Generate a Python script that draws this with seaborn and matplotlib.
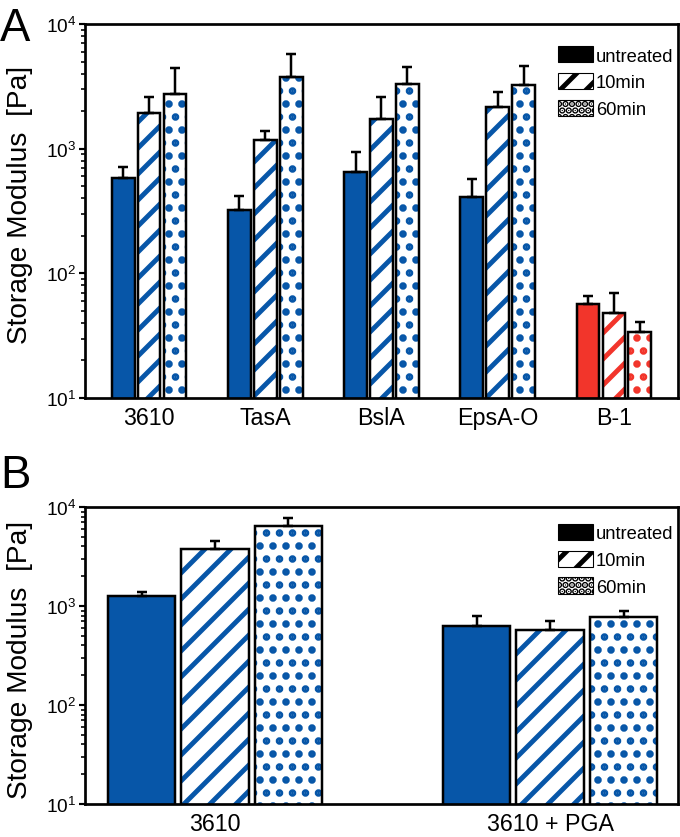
import numpy as np
import pandas as pd
import matplotlib
matplotlib.use('Agg')
import matplotlib.pyplot as plt
from matplotlib.patches import Patch, Rectangle
import seaborn as sns

# ---- data (Pa) ----
treatments = ['untreated', '10min', '60min']

strains_a = ['3610', 'TasA', 'BslA', 'EpsA-O', 'B-1']
untreated_a = [580, 320, 650, 410, 57]
min10_a = [1930, 1180, 1730, 2150, 48]
min60_a = [2750, 3750, 3300, 3250, 34]
err_untreated_a = [130, 100, 285, 160, 9]
err_10_a = [670, 205, 855, 715, 21]
err_60_a = [1690, 1990, 1195, 1385, 7]

strains_b = ['3610', '3610 + PGA']
untreated_b = [1250, 630]
min10_b = [3770, 575]
min60_b = [6480, 780]
err_untreated_b = [120, 155]
err_10_b = [730, 130]
err_60_b = [1265, 118]

BLUE = '#0756a8'
RED = '#f2352b'
colors_a = [BLUE, BLUE, BLUE, BLUE, RED]
colors_b = [BLUE, BLUE]
hatches = [None, '/', '.']

DPI = 78
sns.set_style('ticks')
plt.rcParams['font.family'] = ['Liberation Sans', 'DejaVu Sans']
plt.rcParams['hatch.linewidth'] = 4.5
plt.rcParams['axes.linewidth'] = 2.5
for key in ['text.color', 'axes.labelcolor', 'xtick.color', 'ytick.color', 'axes.edgecolor']:
    plt.rcParams[key] = 'black'


def make_df(strains, vals, errs):
    return pd.DataFrame({
        'strain': strains * 3,
        'treatment': np.repeat(treatments, len(strains)),
        'modulus': vals[0] + vals[1] + vals[2],
        'err': errs[0] + errs[1] + errs[2],
    })


df_a = make_df(strains_a, [untreated_a, min10_a, min60_a],
               [err_untreated_a, err_10_a, err_60_a])
df_b = make_df(strains_b, [untreated_b, min10_b, min60_b],
               [err_untreated_b, err_10_b, err_60_b])


def draw_panel(ax, df, strains, colors, width, gap, legend_y):
    sns.barplot(data=df, x='strain', y='modulus', hue='treatment', order=strains,
                hue_order=treatments, width=width, gap=gap, errorbar=None,
                legend=False, ax=ax)
    ax.set_yscale('log')
    bar_groups = list(ax.containers)
    for i, cont in enumerate(bar_groups):
        sub = df[df['treatment'] == treatments[i]].set_index('strain').loc[strains]
        xs, ys = [], []
        for bar, c in zip(cont, colors):
            if hatches[i] is None:
                bar.set_facecolor(c)
                bar.set_edgecolor(c)
            else:
                bar.set_facecolor('white')
                bar.set_edgecolor(c)
                bar.set_hatch(hatches[i])
            bar.set_linewidth(0)
            # black outline on top of the hatch
            ax.add_patch(Rectangle((bar.get_x(), bar.get_y()), bar.get_width(), bar.get_height(),
                                   fill=False, edgecolor='black', linewidth=2.3, zorder=3))
            xs.append(bar.get_x() + bar.get_width() / 2)
            ys.append(bar.get_height())
        ax.errorbar(xs, ys, yerr=[np.zeros(len(xs)), sub['err'].values], fmt='none',
                    ecolor='black', elinewidth=2.3, capsize=5, capthick=2.3, zorder=2.5)

    ax.set_ylim(10, 1e4)
    ax.set_xlabel('')
    ax.set_ylabel('Storage Modulus  [Pa]', fontsize=26)
    for s in ax.spines.values():
        s.set_visible(True)
        s.set_linewidth(2.5)
        s.set_color('black')
    ax.tick_params(axis='x', length=0, labelsize=21.5, pad=7)
    ax.tick_params(axis='y', which='major', direction='out', length=6, width=2, labelsize=17.5, pad=2)
    ax.tick_params(axis='y', which='minor', direction='out', length=3.5, width=1.5)
    ax.tick_params(axis='y', which='both', right=False)

    handles = [Patch(facecolor='black', edgecolor='black', label='untreated'),
               Patch(facecolor='white', edgecolor='black', hatch='/', label='10min'),
               Patch(facecolor='white', edgecolor='black', hatch='..', label='60min')]
    ax.legend(handles=handles, loc='upper right', bbox_to_anchor=(0.998, legend_y), frameon=False,
              fontsize=17, handlelength=1.9, handleheight=1.0, handletextpad=0.15,
              labelspacing=0.45, borderaxespad=0, borderpad=0.2)


fig = plt.figure(figsize=(681 / DPI, 838 / DPI), dpi=DPI)
ax_a = fig.add_axes([85 / 681, 1 - 399 / 838, 593 / 681, 374 / 838])
ax_b = fig.add_axes([85 / 681, 1 - 805 / 838, 593 / 681, 297 / 838])

draw_panel(ax_a, df_a, strains_a, colors_a, width=0.67, gap=0.13, legend_y=0.951)
draw_panel(ax_b, df_b, strains_b, colors_b, width=0.658, gap=0.087, legend_y=0.956)
ax_b.set_xlim(-0.388, 1.382)

ax_a.yaxis.set_label_coords(-0.087, 0.52)
ax_b.yaxis.set_label_coords(-0.087, 0.49)

fig.text(0.0, 0.992, 'A', fontsize=42, va='top', ha='left')
fig.text(0.0, 0.458, 'B', fontsize=42, va='top', ha='left')

fig.savefig('out.png', dpi=DPI)
